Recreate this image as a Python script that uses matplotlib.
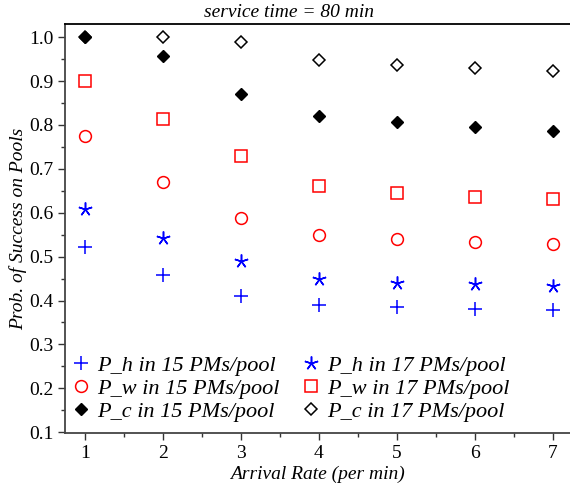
import matplotlib.pyplot as plt
from matplotlib.ticker import MultipleLocator

plt.rcParams['font.family'] = ['Liberation Serif', 'DejaVu Serif']

rate = [1, 2, 3, 4, 5, 6, 7]
ph_15 = [0.521, 0.459, 0.411, 0.390, 0.385, 0.381, 0.378]
ph_17 = [0.608, 0.543, 0.491, 0.450, 0.441, 0.437, 0.434]
pw_15 = [0.774, 0.671, 0.587, 0.550, 0.541, 0.534, 0.528]
pw_17 = [0.900, 0.813, 0.729, 0.660, 0.644, 0.637, 0.631]
pc_15 = [1.000, 0.957, 0.870, 0.820, 0.806, 0.795, 0.786]
pc_17 = [1.000, 1.000, 0.988, 0.949, 0.937, 0.929, 0.923]

fig = plt.figure(figsize=(5.7, 4.91), dpi=100)
ax = fig.add_axes([0.114, 0.118, 0.886, 0.833])

ax.plot(rate, ph_15, ls='none', marker='+', ms=9.5, mew=1.1, color='blue', label='P_h in 15 PMs/pool')
ax.plot(rate, pw_15, ls='none', marker='o', ms=8.5, mfc='none', mew=1.1, color='red', label='P_w in 15 PMs/pool')
ax.plot(rate, pc_15, ls='none', marker='D', ms=6, color='black', label='P_c in 15 PMs/pool', zorder=3)
ax.plot(rate, ph_17, ls='none', marker=(5, 2, 0), ms=10, mew=1.1, color='blue', label='P_h in 17 PMs/pool')
ax.plot(rate, pw_17, ls='none', marker='s', ms=8, mfc='none', mew=1.1, color='red', label='P_w in 17 PMs/pool')
ax.plot(rate, pc_17, ls='none', marker='D', ms=6, mfc='white', mew=1.1, color='black', label='P_c in 17 PMs/pool', zorder=2)

ax.set_xlim(0.744, 7.22)
ax.set_ylim(0.098, 1.03)
ax.xaxis.set_major_locator(MultipleLocator(1))
ax.xaxis.set_minor_locator(MultipleLocator(0.5))
ax.yaxis.set_major_locator(MultipleLocator(0.1))
ax.yaxis.set_minor_locator(MultipleLocator(0.05))
ax.yaxis.set_major_formatter(plt.FormatStrFormatter('%.1f'))
ax.tick_params(which='major', direction='out', length=5, width=1, labelsize=14, color='#333333')
ax.tick_params(which='minor', direction='out', length=3, width=1, color='#333333')

ax.spines['right'].set_visible(False)
ax.spines['top'].set_color('black')
ax.spines['left'].set_color('#444444')
ax.spines['bottom'].set_color('#444444')
for s in ax.spines.values():
    s.set_linewidth(1.3)

ax.set_xlabel('Arrival Rate (per min)', style='italic', fontsize=14, labelpad=3)
ax.set_ylabel('Prob. of Success on Pools', style='italic', fontsize=14, labelpad=1)
fig.text(0.507, 0.975, 'service time = 80 min', style='italic', fontsize=14,
         ha='center', va='center')

leg = ax.legend(loc='lower left', bbox_to_anchor=(-0.022, -0.005), ncol=2, frameon=False,
                fontsize=16, handletextpad=0.15, columnspacing=0.8, labelspacing=0.1,
                handlelength=1.2, borderaxespad=0.2)
for t in leg.get_texts():
    t.set_fontstyle('italic')

fig.savefig('out.png', dpi=100)
